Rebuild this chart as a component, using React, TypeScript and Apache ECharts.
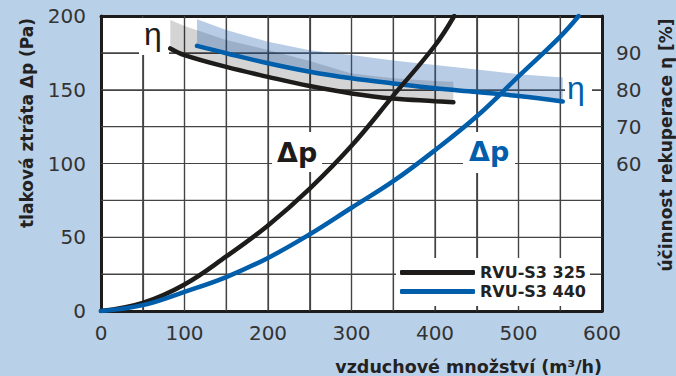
import React, { useEffect, useRef } from 'react';
import * as echarts from 'echarts';

// Pressure drop Δp [Pa] vs airflow [m³/h]
const flow325 = [0, 50, 100, 150, 200, 250, 300, 350, 400, 423];
const dp325 = [0, 5.5, 18, 37, 58, 83, 112, 146, 180, 200];
const flow440 = [0, 50, 100, 150, 200, 250, 300, 350, 400, 450, 500, 550, 572];
const dp440 = [0, 4, 13, 23, 36, 52, 70, 88, 109, 132, 159, 186, 200];

// Heat recovery efficiency η [%] vs airflow
const etaFlow325 = [83, 100, 150, 200, 250, 300, 350, 400, 422];
const eta325 = [91.2, 89.4, 86.2, 83.5, 81.0, 79.0, 77.6, 76.9, 76.6];
const etaTop325 = [98.9, 97.3, 93.5, 90.8, 87.8, 84.4, 83.1, 82.4, 82.2];

const etaFlow440 = [115, 150, 200, 250, 300, 350, 400, 450, 500, 553];
const eta440 = [91.9, 89.9, 87.2, 84.9, 83.1, 81.7, 80.4, 79.4, 78.3, 76.8];
const etaTop440 = [99.1, 96.2, 93.0, 90.7, 89.4, 87.9, 86.7, 85.5, 84.2, 83.3];

const seriesNames = ['RVU-S3 325', 'RVU-S3 440'];
const leftLabels = [0, 50, 100, 150, 200];
const rightLabels = [60, 70, 80, 90];
const xLabels = [0, 100, 200, 300, 400, 500, 600];
const xGridValues = [50, 100, 150, 200, 250, 300, 350, 400, 450, 500, 550];
const yGridValues = [25, 50, 75, 100, 125, 150, 175];

const BLACK = '#1d1c1b';
const BLUE = '#005eaa';
const FONT = '"DejaVu Sans", sans-serif';

const zip = (a: number[], b: number[]) => a.map((v, i) => [v, b[i]]);

const band = (flows: number[], lower: number[], upper: number[], fill: string) =>
  (params: any, api: any) => {
    if (params.dataIndex !== 0) return null;
    const pts: number[][] = [];
    for (let i = 0; i < flows.length; i++) pts.push(api.coord([flows[i], upper[i]]));
    for (let i = flows.length - 1; i >= 0; i--) pts.push(api.coord([flows[i], lower[i]]));
    return { type: 'polygon', shape: { points: pts }, style: { fill } };
  };

const gridRender = (params: any, api: any) => {
  if (params.dataIndex !== 0) return null;
  const children: any[] = [];
  xGridValues.forEach((q) => {
    const a = api.coord([q, 0]);
    const b = api.coord([q, 200]);
    children.push({
      type: 'line',
      shape: { x1: a[0], y1: a[1], x2: b[0], y2: b[1] },
      style: { stroke: '#444', lineWidth: 1.2, fill: null },
    });
  });
  yGridValues.forEach((v) => {
    const a = api.coord([0, v]);
    const b = api.coord([600, v]);
    children.push({
      type: 'line',
      shape: { x1: a[0], y1: a[1], x2: b[0], y2: b[1] },
      style: { stroke: '#444', lineWidth: 1.2, fill: null },
    });
  });
  return { type: 'group', children };
};

const frameAxisLine = { show: true, onZero: false, lineStyle: { color: BLACK, width: 3 } };
const splitGrid = { show: true, lineStyle: { color: '#444', width: 1.2 } };

export default function App() {
  const ref = useRef<HTMLDivElement>(null);
  useEffect(() => {
    if (!ref.current) return;
    const chart = echarts.init(ref.current, null, { renderer: 'svg' });
    const lineSeries = (name: string, color: string, yAxisIndex: number, data: number[][]) => ({
      type: 'line', name, yAxisIndex, color, z: 5,
      data, smooth: 0.4, showSymbol: false, symbol: 'none',
      lineStyle: { width: 4.5, color, cap: 'round' },
    });
    chart.setOption({
      animation: false,
      backgroundColor: 'transparent',
      grid: { left: 101, right: 74, top: 16, bottom: 65 },
      xAxis: [
        {
          type: 'value', min: 0, max: 600, interval: 50, position: 'bottom',
          axisLine: frameAxisLine,
          axisTick: { show: true, inside: true, length: 0 },
          splitLine: splitGrid,
          axisLabel: {
            margin: 12, fontFamily: FONT, fontSize: 20, color: '#333',
            formatter: (v: number) => (xLabels.includes(v) ? String(v) : ''),
          },
        },
        {
          type: 'value', min: 0, max: 600, interval: 50, position: 'top',
          axisLine: frameAxisLine,
          axisTick: { show: false }, axisLabel: { show: false }, splitLine: { show: false },
        },
      ],
      yAxis: [
        {
          type: 'value', min: 0, max: 200, interval: 25, position: 'left',
          axisLine: frameAxisLine,
          axisTick: { show: true, inside: true, length: 0 },
          splitLine: splitGrid,
          axisLabel: {
            margin: 15, fontFamily: FONT, fontSize: 20, color: '#333',
            formatter: (v: number) => (leftLabels.includes(v) ? String(v) : ''),
          },
        },
        {
          type: 'value', min: 20, max: 100, interval: 10, position: 'right',
          axisLine: frameAxisLine,
          axisTick: { show: false },
          splitLine: { show: false },
          axisLabel: {
            margin: 14, fontFamily: FONT, fontSize: 20, color: '#333',
            formatter: (v: number) => (rightLabels.includes(v) ? String(v) : ''),
          },
        },
      ],
      legend: {
        data: seriesNames,
        orient: 'vertical',
        left: 396, top: 258, z: 10,
        backgroundColor: '#fff',
        padding: [5, 4, 5, 4],
        itemGap: 0,
        itemWidth: 75, itemHeight: 5,
        icon: 'roundRect',
        textStyle: { fontFamily: FONT, fontWeight: 'bold', fontSize: 16, color: '#222', lineHeight: 19 },
      },
      series: [
        {
          type: 'custom', name: 'gridlines', silent: true, z: 1,
          data: [[300, 100]],
          renderItem: gridRender,
        },
        {
          type: 'custom', name: 'band325', silent: true, yAxisIndex: 1, z: 4,
          data: [[etaFlow325[0], eta325[0]]],
          renderItem: band(etaFlow325, eta325, etaTop325, 'rgba(0,0,0,0.17)'),
        },
        {
          type: 'custom', name: 'band440', silent: true, yAxisIndex: 1, z: 4,
          data: [[etaFlow440[0], eta440[0]]],
          renderItem: band(etaFlow440, eta440, etaTop440, 'rgba(40,100,180,0.33)'),
        },
        lineSeries(seriesNames[0], BLACK, 1, zip(etaFlow325, eta325)),
        lineSeries(seriesNames[1], BLUE, 1, zip(etaFlow440, eta440)),
        lineSeries(seriesNames[0], BLACK, 0, zip(flow325, dp325)),
        lineSeries(seriesNames[1], BLUE, 0, zip(flow440, dp440)),
      ],
      graphic: [
        { type: 'rect', z: 3, shape: { x: 139, y: 18, width: 30, height: 37 }, style: { fill: '#fff' } },
        { type: 'rect', z: 3, shape: { x: 272, y: 132, width: 50, height: 40 }, style: { fill: '#fff' } },
        { type: 'rect', z: 3, shape: { x: 463, y: 132, width: 52, height: 41 }, style: { fill: '#fff' } },
        { type: 'rect', z: 3, shape: { x: 565, y: 78, width: 27, height: 34 }, style: { fill: '#fff' } },
        {
          type: 'text', z: 9, x: 144, y: 34,
          style: { text: 'η', font: '32px "Liberation Sans", sans-serif', fill: BLACK, textAlign: 'left', textVerticalAlign: 'middle' },
        },
        {
          type: 'text', z: 9, x: 277, y: 152,
          style: { text: 'Δp', font: 'bold 27px "DejaVu Sans", sans-serif', fill: BLACK, textAlign: 'left', textVerticalAlign: 'middle' },
        },
        {
          type: 'text', z: 9, x: 469, y: 151,
          style: { text: 'Δp', font: 'bold 27px "DejaVu Sans", sans-serif', fill: BLUE, textAlign: 'left', textVerticalAlign: 'middle' },
        },
        {
          type: 'text', z: 9, x: 567, y: 88,
          style: { text: 'η', font: '32px "Liberation Sans", sans-serif', fill: BLUE, textAlign: 'left', textVerticalAlign: 'middle' },
        },
        {
          type: 'text', z: 9, x: 27, y: 123, rotation: Math.PI / 2,
          style: { text: 'tlaková ztráta Δp (Pa)', font: 'bold 17px "DejaVu Sans", sans-serif', fill: '#222', textAlign: 'center', textVerticalAlign: 'middle' },
        },
        {
          type: 'text', z: 9, x: 666, y: 145, rotation: Math.PI / 2,
          style: { text: 'účinnost rekuperace η [%]', font: 'bold 17px "DejaVu Sans", sans-serif', fill: '#222', textAlign: 'center', textVerticalAlign: 'middle' },
        },
        {
          type: 'text', z: 9, x: 602, y: 367,
          style: { text: 'vzduchové množství (m³/h)', font: 'bold 17.5px "DejaVu Sans", sans-serif', fill: '#222', textAlign: 'right', textVerticalAlign: 'middle' },
        },
      ],
    });
    return () => chart.dispose();
  }, []);
  return (
    <div style={{ position: 'fixed', left: 0, top: 0, width: 676, height: 376, background: '#b9d0e9' }}>
      <div style={{ position: 'absolute', left: 101, top: 16, width: 501, height: 295, background: '#fff' }} />
      <div ref={ref} style={{ position: 'absolute', left: 0, top: 0, width: 676, height: 376 }} />
    </div>
  );
}
